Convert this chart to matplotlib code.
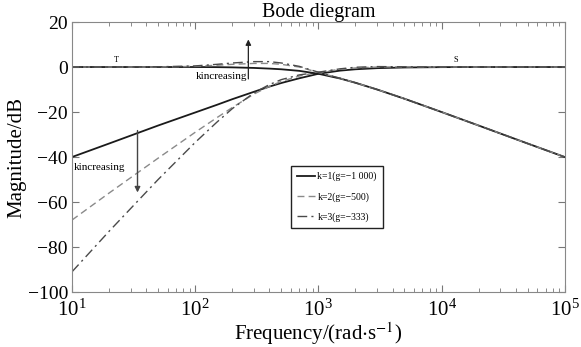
import matplotlib.pyplot as plt
import numpy as np

plt.rcParams['font.family'] = ['Liberation Serif', 'DejaVu Serif']
plt.rcParams['mathtext.fontset'] = 'stix'

# frequency grid (rad/s) and magnitudes (dB)
freq = np.array([10, 20, 50, 100, 150, 200, 300, 400, 500, 700, 1000,
                 1500, 2000, 3000, 5000, 1e4, 2e4, 5e4, 1e5])

# S curves (rise to 0 dB)
s_k1 = np.array([-40, -34, -26, -20.2, -16.8, -14.3, -11, -8.7, -7.1, -5, -3,
                 -1.6, -1, -0.5, -0.2, -0.05, 0, 0, 0])
s_k2 = np.array([-68, -56, -40.5, -29, -22.5, -18, -12, -8.6, -6.4, -4, -2.4,
                 -1, -0.4, 0, 0.05, 0, 0, 0, 0])
s_k3 = np.array([-91, -73, -50, -33.5, -24.5, -18.5, -11.5, -7.8, -5.6, -3.5, -2.3,
                 -0.8, -0.1, 0.2, 0.1, 0, 0, 0, 0])

# T curves (flat, then fall off)
t_k1 = np.array([0, 0, 0, 0, -0.05, -0.15, -0.4, -0.7, -1, -1.7, -3,
                 -5.1, -7, -10, -14.1, -20, -26, -34, -40])
t_k2 = np.array([0, 0, 0, 0.3, 0.8, 1.2, 1.6, 1.6, 1.2, 0, -2.4,
                 -5, -7, -10, -14.1, -20, -26, -34, -40])
t_k3 = np.array([0, 0, 0.1, 0.5, 1.2, 1.8, 2.4, 2.4, 1.8, 0.3, -2.3,
                 -5, -7, -10, -14.1, -20, -26, -34, -40])

labels = ['k=1(g=\u22121 000)', 'k=2(g=\u2212500)', 'k=3(g=\u2212333)']

fig = plt.figure(figsize=(5.81, 3.47), dpi=100)
ax = fig.add_axes([0.124, 0.1585, 0.848, 0.778])

ax.semilogx(freq, s_k1, color='#1a1a1a', lw=1.3, label=labels[0])
ax.semilogx(freq, s_k2, color='#8a8a8a', lw=1.0, ls=(0, (5, 3)), label=labels[1])
ax.semilogx(freq, s_k3, color='#4a4a4a', lw=1.0, ls=(0, (7, 3, 1.5, 3)), label=labels[2])
ax.semilogx(freq, t_k1, color='#1a1a1a', lw=1.3)
ax.semilogx(freq, t_k2, color='#8a8a8a', lw=1.0, ls=(0, (5, 3)))
ax.semilogx(freq, t_k3, color='#4a4a4a', lw=1.0, ls=(0, (7, 3, 1.5, 3)))

ax.set_xlim(10, 1e5)
ax.set_ylim(-100, 20)
ax.set_yticks([-100, -80, -60, -40, -20, 0, 20])
ax.tick_params(which='both', direction='in', top=True, right=True, color='#777777')
ax.tick_params(axis='x', labelsize=15, pad=5.5)
ax.tick_params(axis='y', labelsize=14, pad=3)
ax.tick_params(which='major', length=5)
ax.tick_params(which='minor', length=3)
for sp in ax.spines.values():
    sp.set_color('#888888')

ax.set_title('Bode diegram', fontsize=14.5, pad=1)
ax.set_xlabel('Frequency/(rad$\\cdot$s$^{-1}$)', fontsize=15, labelpad=-0.5)
ax.set_ylabel('Magnitude/dB', fontsize=15, labelpad=1)

# annotations
ax.annotate('', xy=(270, 13.5), xytext=(270, -6.5),
            arrowprops=dict(arrowstyle='-|>', color='#222222', lw=0.9, mutation_scale=8))
ax.text(265, -4, 'kincreasing', fontsize=8, ha='right', va='center')
ax.annotate('', xy=(34, -57), xytext=(34, -27),
            arrowprops=dict(arrowstyle='-|>', color='#444444', lw=1.0, mutation_scale=8))
ax.text(10.3, -44.5, 'kincreasing', fontsize=8, ha='left', va='center')
ax.text(23, 3, 'T', fontsize=6, ha='center', va='center')
ax.text(1.3e4, 3, 'S', fontsize=6, ha='center', va='center')

leg = ax.legend(loc='upper left', bbox_to_anchor=(0.435, 0.485), fontsize=7,
                handlelength=1.8, handletextpad=0.3, labelspacing=1.1,
                borderpad=0.6, fancybox=False, framealpha=1)
leg.get_frame().set_edgecolor('#222222')
leg.get_frame().set_linewidth(1.0)

fig.savefig('out.png', dpi=100)
